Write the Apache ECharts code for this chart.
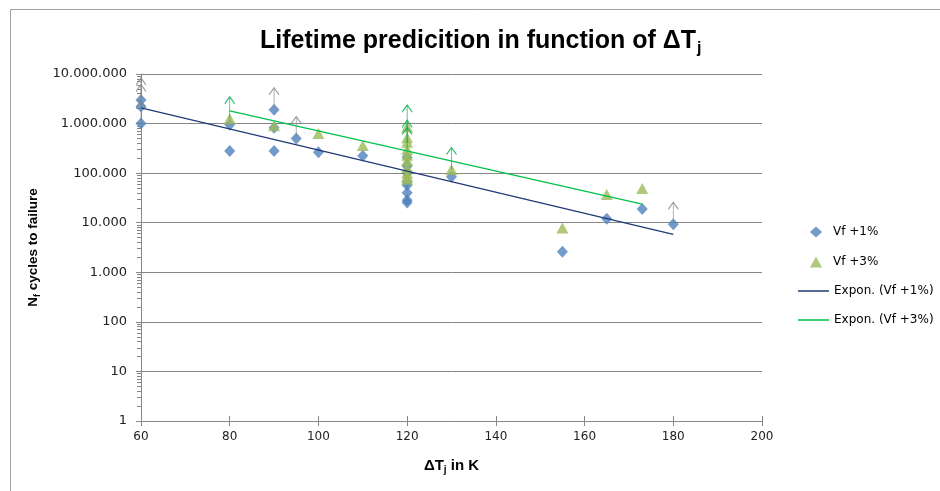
<!DOCTYPE html>
<html><head><meta charset="utf-8">
<script src="https://cdn.jsdelivr.net/npm/echarts@6/dist/echarts.min.js"></script>
<style>html,body{margin:0;padding:0;background:#fff}#c{width:940px;height:491px}</style>
</head><body><div id="c"></div>
<script>
// ---- data ----
const blueX = [60, 60, 60, 80, 80, 90, 90, 90, 95, 100, 110, 120, 120, 120, 120, 120, 120, 120, 120, 130, 155, 165, 173, 180];
const blueY = [3000000, 2200000, 1000000, 950000, 280000, 1900000, 820000, 280000, 500000, 265000, 225000, 210000, 140000, 100000, 67000, 57000, 40000, 28500, 25500, 85000, 2600, 12000, 19000, 9300];
const greenX = [80, 90, 100, 110, 120, 120, 120, 120, 120, 120, 120, 120, 120, 120, 130, 155, 165, 173];
const greenY = [1250000, 900000, 630000, 360000, 850000, 520000, 420000, 300000, 230000, 180000, 130000, 100000, 85000, 75000, 118000, 7800, 37000, 49000];
const blueTrendX = [60, 180];
const blueTrendY = [2080000, 5800];
const greenTrendX = [80, 173];
const greenTrendY = [1800000, 23700];
const grayArrowX = [60, 60, 60, 90, 95, 180];
const grayArrowY = [3000000, 2200000, 1000000, 1900000, 500000, 9300];
const greenArrowX = [80, 120, 120, 120, 130];
const greenArrowY = [1250000, 850000, 420000, 300000, 118000];
const xTicks = [60, 80, 100, 120, 140, 160, 180, 200];
const seriesNames = ['Vf +1%', 'Vf +3%', 'Expon. (Vf +1%)', 'Expon. (Vf +3%)'];

function pairs(xs, ys) { return xs.map((x, i) => [x, ys[i]]); }
function fmt(v) { return Math.round(v).toString().replace(/\B(?=(\d{3})+(?!\d))/g, '.'); }

const arrowPath = 'path://M5,22L5,0M0,7L5,0L10,7';
const FONT = 'DejaVu Sans';
const BOLD = 'Liberation Sans';

const chart = echarts.init(document.getElementById('c'), null, { renderer: 'canvas' });
chart.setOption({
  backgroundColor: '#fff',
  animation: false,
  graphic: [{
    type: 'rect', left: 8, top: 7, z: -10,
    shape: { width: 1000, height: 1000 },
    style: { fill: 'none', stroke: '#a0a0a0', lineWidth: 1 }
  }],
  title: {
    text: '{t|Lifetime predicition in function of ΔT}{s|j}',
    left: 255, top: 20,
    textStyle: {
      rich: {
        t: { fontFamily: BOLD, fontWeight: 'bold', fontSize: 25, color: '#000' },
        s: { fontFamily: BOLD, fontWeight: 'bold', fontSize: 16, color: '#000', padding: [16, 0, 0, 1] }
      }
    }
  },
  grid: { left: 141, right: 178, top: 74, bottom: 70 },
  legend: [{
    orient: 'vertical', left: 810, top: 225, padding: 0,
    itemWidth: 12, itemHeight: 11, itemGap: 16,
    textStyle: { fontFamily: FONT, fontSize: 12, color: '#000', lineHeight: 14, padding: [0, 0, 0, 6] },
    data: [
      { name: seriesNames[0], icon: 'diamond' },
      { name: seriesNames[1], icon: 'triangle' }
    ]
  }, {
    orient: 'vertical', left: 798, top: 284, padding: 0,
    itemWidth: 31, itemHeight: 1.5, itemGap: 15,
    textStyle: { fontFamily: FONT, fontSize: 12, color: '#000', lineHeight: 14 },
    data: [
      { name: seriesNames[2], icon: 'rect' },
      { name: seriesNames[3], icon: 'rect' }
    ]
  }],
  xAxis: [{
    type: 'value', min: 60, max: 200, interval: 20,
    axisLine: { lineStyle: { color: '#868686' } },
    axisTick: { length: 5, lineStyle: { color: '#868686' } },
    splitLine: { show: false },
    axisLabel: { margin: 10, fontFamily: FONT, fontSize: 12, color: '#222',
      formatter: v => xTicks.includes(v) ? String(v) : '' },
    name: '{a|ΔT}{b|j}{a| in K}', nameLocation: 'middle', nameGap: 36,
    nameTextStyle: {
      rich: {
        a: { fontFamily: BOLD, fontWeight: 'bold', fontSize: 15, color: '#000' },
        b: { fontFamily: BOLD, fontWeight: 'bold', fontSize: 10, color: '#000', padding: [8, 0, 0, 0] }
      }
    }
  }, {
    type: 'value', min: 60, max: 200, interval: 20, position: 'bottom',
    axisLine: { show: false }, axisLabel: { show: false }, splitLine: { show: false },
    axisTick: { inside: true, length: 5, lineStyle: { color: '#868686' } }
  }],
  yAxis: {
    type: 'log', logBase: 10, min: 1, max: 10000000, interval: 1, splitNumber: 7,
    axisLine: { show: true, lineStyle: { color: '#868686' } },
    axisTick: { show: true, length: 5, lineStyle: { color: '#868686' } },
    minorTick: { show: true, splitNumber: 9, length: 4, lineStyle: { color: '#868686' } },
    splitLine: { show: true, lineStyle: { color: '#868686', width: 1 } },
    axisLabel: { margin: 14, fontFamily: FONT, fontSize: 13, color: '#222', formatter: fmt },
    name: '{a|N}{b|f}{a| cycles to failure}', nameLocation: 'middle', nameGap: 89, nameRotate: 90,
    nameTextStyle: {
      rich: {
        a: { fontFamily: BOLD, fontWeight: 'bold', fontSize: 13.5, color: '#000' },
        b: { fontFamily: BOLD, fontWeight: 'bold', fontSize: 9, color: '#000', padding: [7, 0, 0, 0] }
      }
    }
  },
  series: [
    { name: seriesNames[0], type: 'scatter', data: pairs(blueX, blueY), symbol: 'diamond',
      symbolSize: [11, 12], itemStyle: { color: '#4F81BD' }, z: 2 },
    { name: seriesNames[1], type: 'scatter', data: pairs(greenX, greenY), symbol: 'triangle',
      symbolSize: [12, 11], itemStyle: { color: '#9BBB59' }, z: 3 },
    { name: seriesNames[2], type: 'line', data: pairs(blueTrendX, blueTrendY), symbol: 'none',
      lineStyle: { color: '#1F3A78', width: 1.2 }, itemStyle: { color: '#1F3A78' }, z: 4 },
    { name: seriesNames[3], type: 'line', data: pairs(greenTrendX, greenTrendY), symbol: 'none',
      lineStyle: { color: '#00C04A', width: 1.2 }, itemStyle: { color: '#00C04A' }, z: 4 },
    { name: 'grayArrows', type: 'scatter', data: pairs(grayArrowX, grayArrowY), symbol: arrowPath,
      symbolSize: [10, 22], symbolOffset: [0, -11], silent: true,
      itemStyle: { color: 'rgba(0,0,0,0)', borderColor: '#8a8a8a', borderWidth: 1.2 }, z: 5 },
    { name: 'greenArrows', type: 'scatter', data: pairs(greenArrowX, greenArrowY), symbol: arrowPath,
      symbolSize: [10, 22], symbolOffset: [0, -11], silent: true,
      itemStyle: { color: 'rgba(0,0,0,0)', borderColor: '#00B050', borderWidth: 1.2 }, z: 5 }
  ]
});
</script></body></html>
